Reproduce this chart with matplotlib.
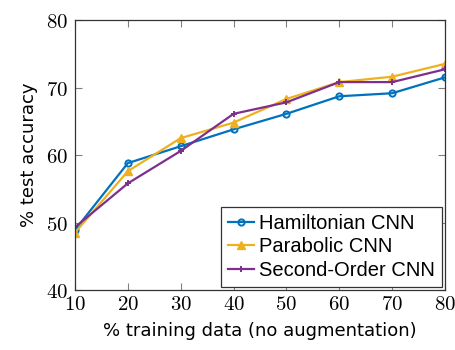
import matplotlib
matplotlib.use("Agg")
import matplotlib.pyplot as plt

x = [10, 20, 30, 40, 50, 60, 70, 80]
hamiltonian = [48.9, 58.8, 61.3, 63.8, 66.1, 68.7, 69.15, 71.5]
parabolic = [48.5, 57.6, 62.5, 64.8, 68.3, 70.8, 71.6, 73.5]
second_order = [49.3, 55.8, 60.6, 66.1, 67.8, 70.8, 70.8, 72.7]
labels = ["Hamiltonian CNN", "Parabolic CNN", "Second-Order CNN"]
xticks = [10, 20, 30, 40, 50, 60, 70, 80]
yticks = [40, 50, 60, 70, 80]

plt.rcParams['mathtext.fontset'] = 'cm'
plt.rcParams['font.family'] = ['DejaVu Sans']

fig = plt.figure(figsize=(4.55, 3.5), dpi=100)
ax = fig.add_axes([75/455, 1-290/350, 370/455, 270/350])

ax.plot(x, hamiltonian, color='#0072BD', lw=1.6, marker='o', ms=4.5, mfc='none', mew=1.4, label=labels[0])
ax.plot(x, parabolic, color='#EDB120', lw=1.6, marker='^', ms=5.5, label=labels[1])
ax.plot(x, second_order, color='#7E2F8E', lw=1.6, marker='+', ms=5, mew=1.4, label=labels[2])

ax.set_xlim(10, 80)
ax.set_ylim(40, 80)
ax.set_xticks(xticks)
ax.set_yticks(yticks)
ax.set_xticklabels([f"${t}$" for t in xticks], fontsize=15)
ax.set_yticklabels([f"${t}$" for t in yticks], fontsize=15)
ax.tick_params(direction='in', top=True, right=True, length=5, color='#808080', width=0.8)
ax.tick_params(axis='x', pad=3)
ax.tick_params(axis='y', pad=5)
for s in ax.spines.values():
    s.set_linewidth(0.9)
    s.set_color('#333333')

ax.set_xlabel("% training data (no augmentation)", fontsize=13, labelpad=6)
ax.set_ylabel("% test accuracy", fontsize=13, labelpad=6)

leg = ax.legend(loc='lower right', prop={'family': 'Liberation Sans', 'size': 14.5},
                frameon=True, fancybox=False,
                edgecolor='#333333', framealpha=1, borderpad=0.35, labelspacing=0.22,
                handlelength=1.3, handletextpad=0.25, borderaxespad=0.15)
leg.get_frame().set_linewidth(0.9)

fig.savefig("out.png", dpi=100)
